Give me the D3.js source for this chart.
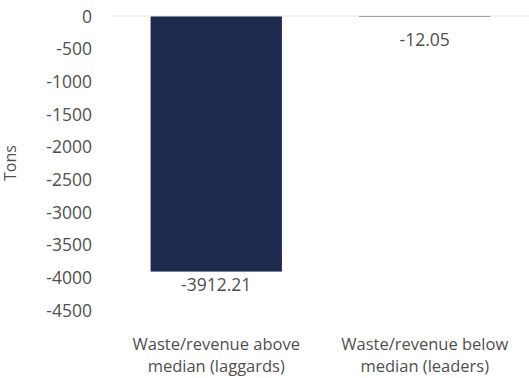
<!DOCTYPE html>
<meta charset="UTF-8">
<head>
<style>
body { margin: 0; background: #fff; }
text { font-family: "Open Sans", Lato, sans-serif; fill: #505050; }
</style>
</head>
<body>
<script src="https://cdn.jsdelivr.net/npm/d3@7"></script>
<script>

var categories = [["Waste/revenue above", "median (laggards)"], ["Waste/revenue below", "median (leaders)"]];
var values = [-3912.21, -12.05];
var valueLabels = ["-3912.21", "-12.05"];
var ticks = [0, -500, -1000, -1500, -2000, -2500, -3000, -3500, -4000, -4500];

var W = 529, H = 378;
var margin = {top: 16, left: 112, right: 0, bottom: 68};

var svg = d3.select("body").append("svg")
    .attr("width", W)
    .attr("height", H);

var x = d3.scaleBand()
    .domain([0, 1])
    .range([margin.left, W - margin.right])
    .paddingInner(0.37)
    .paddingOuter(0.185);

var y = d3.scaleLinear()
    .domain([0, -4500])
    .range([margin.top, 310]);

// y axis labels only
var yAxis = svg.append("g")
    .attr("transform", "translate(92,0)")
    .call(d3.axisLeft(y).tickValues(ticks).tickSize(0).tickPadding(0)
      .tickFormat(function(d) { return String(d); }));
yAxis.select(".domain").remove();
yAxis.attr("font-family", null).attr("font-size", null);
yAxis.selectAll("text")
    .style("font-size", "17.5px")
    .attr("fill", "#505050")
    .attr("dy", "0.35em");

svg.selectAll("rect.bar")
    .data(values)
  .enter().append("rect")
    .attr("class", "bar")
    .attr("x", function(d, i) { return x(i); })
    .attr("width", x.bandwidth())
    .attr("y", function(d) { return y(0); })
    .attr("height", function(d) { return y(d) - y(0); })
    .attr("fill", "#1f2a4f");

// zero line
svg.append("line")
    .attr("x1", margin.left)
    .attr("x2", W)
    .attr("y1", y(0))
    .attr("y2", y(0))
    .attr("stroke", "#ece9dc")
    .attr("stroke-width", 1);

svg.selectAll("text.val")
    .data(values)
  .enter().append("text")
    .attr("class", "val")
    .attr("x", function(d, i) { return x(i) + x.bandwidth() / 2; })
    .attr("y", function(d) { return Math.max(y(d), y(0) + 11) + 13; })
    .attr("dy", "0.35em")
    .attr("text-anchor", "middle")
    .style("font-size", "17.5px")
    .text(function(d, i) { return valueLabels[i]; });

var cat = svg.selectAll("text.cat")
    .data(categories)
  .enter().append("text")
    .attr("class", "cat")
    .attr("text-anchor", "middle")
    .style("font-size", "16.5px")
    .attr("y", 344);
cat.selectAll("tspan")
    .data(function(d, i) { return d.map(function(s) { return {s: s, i: i}; }); })
  .enter().append("tspan")
    .attr("x", function(d) { return x(d.i) + x.bandwidth() / 2; })
    .attr("dy", function(d, j) { return j === 0 ? "0.35em" : "22px"; })
    .text(function(d) { return d.s; });

svg.append("text")
    .attr("transform", "translate(10," + ((y(0) + y(-4500)) / 2) + ") rotate(-90)")
    .attr("text-anchor", "middle")
    .attr("dy", "0.35em")
    .style("font-size", "16px")
    .text("Tons");

</script>
</body>
</html>
